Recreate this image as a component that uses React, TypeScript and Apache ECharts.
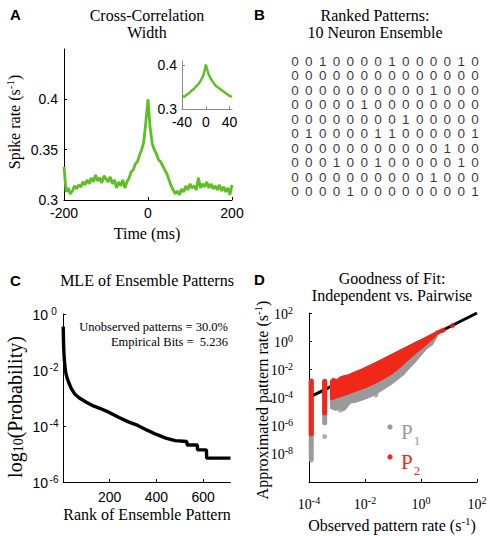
import { useEffect, useRef } from 'react';
import * as echarts from 'echarts';

// ---------- Panel A: cross-correlation ----------
const xcorrTimes = [
  -200, -195, -190, -185, -180, -175, -170, -165, -160, -155,
  -150, -145, -140, -135, -130, -125, -120, -115, -110, -105,
  -100, -95, -90, -85, -80, -75, -70, -65, -60, -55,
  -50, -45, -40, -35, -30, -25, -20, -15, -10, -5,
  0,
  5, 10, 15, 20, 25, 30, 35, 40, 45, 50,
  55, 60, 65, 70, 75, 80, 85, 90, 95, 100,
  105, 110, 115, 120, 125, 130, 135, 140, 145, 150,
  155, 160, 165, 170, 175, 180, 185, 190, 195, 200,
];
const xcorrRates = [
  0.333, 0.308, 0.312, 0.306, 0.309, 0.314, 0.311, 0.315, 0.313, 0.318,
  0.315, 0.320, 0.316, 0.322, 0.318, 0.325, 0.319, 0.322, 0.317, 0.324,
  0.321, 0.318, 0.323, 0.316, 0.320, 0.312, 0.318, 0.314, 0.320, 0.312,
  0.318, 0.322, 0.328, 0.330, 0.336, 0.338, 0.345, 0.350, 0.358, 0.378,
  0.400,
  0.372, 0.356, 0.350, 0.346, 0.340, 0.338, 0.334, 0.330, 0.326, 0.320,
  0.314, 0.310, 0.306, 0.309, 0.305, 0.311, 0.308, 0.314, 0.310, 0.316,
  0.312, 0.314, 0.310, 0.322, 0.312, 0.316, 0.313, 0.318, 0.312, 0.316,
  0.311, 0.314, 0.310, 0.315, 0.309, 0.313, 0.308, 0.312, 0.305, 0.315,
];
const insetTimes = [-40, -36, -32, -28, -24, -20, -16, -12, -8, -4, -2, 0, 2, 4, 8, 12, 16, 20, 24, 28, 32, 36, 40, 44];
const insetRates = [
  0.330, 0.328, 0.333, 0.336, 0.342, 0.346, 0.352, 0.358, 0.366, 0.378, 0.388, 0.402,
  0.392, 0.382, 0.370, 0.362, 0.354, 0.350, 0.346, 0.342, 0.338, 0.334, 0.330, 0.328,
];
const aTimeTicks = [-200, 0, 200];
const aRateTicks = [0.3, 0.35, 0.4];
const insetTimeTicks = [-40, 0, 40];
const insetRateTicks = [0.3, 0.4];

// ---------- Panel B: ranked patterns ----------
const patterns = [
  '00100001000010',
  '00000000000000',
  '00000000001000',
  '00000100000000',
  '00000000100000',
  '01000011000001',
  '00000000000100',
  '00010010000010',
  '00000000001000',
  '00001000000001',
];

// ---------- Panel C: MLE of ensemble patterns ----------
const rankValues = [1, 2, 3, 5, 8, 12, 18, 25, 35, 50, 70, 100, 130, 160, 200, 240, 280, 320, 360, 400, 440, 480, 530, 531, 575, 576, 614, 615, 717];
const rankProbs = [
  0.355, 0.126, 0.063, 0.028, 0.0141, 0.0079, 0.005, 0.0035, 0.0022, 0.0014,
  0.001, 7.1e-4, 5.2e-4, 4.2e-4, 3.0e-4, 2.0e-4, 1.4e-4, 1.05e-4, 7.1e-5, 5.0e-5,
  3.7e-5, 3.0e-5, 2.8e-5, 2.1e-5, 2.1e-5, 1.4e-5, 1.4e-5, 7.1e-6, 7.1e-6,
];
const cRankTicks = [200, 400, 600];
const cProbTicks = [1e-6, 1e-4, 1e-2, 1];

// ---------- Panel D: goodness of fit (log10 exponents) ----------
const diagLineLog = [[-3.92, -3.92], [2, 2]];
const p1ColumnsLog = [[-3.92, -8.3, -2.9], [-3.44, -5.8, -2.9]];
const p2ColumnsLog = [[-3.92, -6.6, -2.82], [-3.44, -5.1, -2.85]];
const p1BandLog = [
  [-3.25, -2.85], [-3.0, -2.7], [-2.76, -2.45], [-2.45, -2.25], [-2.2, -2.08], [-1.93, -1.85],
  [-1.5, -1.42], [-1.1, -1.0], [-0.75, -0.65], [-0.5, -0.38], [-0.2, -0.05], [0.1, 0.22],
  [0.3, 0.42], [0.55, 0.66],
  [0.6, 0.35], [0.43, -0.27], [0.2, -0.6], [-0.16, -1.45], [-0.45, -2.05], [-0.6, -2.4],
  [-0.75, -2.63], [-1.05, -3.1], [-1.34, -3.46], [-1.65, -3.85], [-1.93, -4.1], [-2.3, -4.35],
  [-2.52, -4.45], [-2.65, -4.8], [-2.76, -5.0], [-2.9, -4.85], [-3.05, -4.95], [-3.25, -4.8],
];
const p2BandLog = [
  [-3.25, -2.8], [-3.15, -2.6], [-3.0, -2.68], [-2.9, -2.5], [-2.76, -2.42], [-2.6, -2.36],
  [-2.45, -2.2], [-2.2, -2.02], [-1.93, -1.77], [-1.7, -1.55], [-1.5, -1.35], [-1.34, -1.19],
  [-1.1, -0.95], [-0.9, -0.75], [-0.75, -0.6], [-0.5, -0.35], [-0.3, -0.15], [-0.16, -0.01],
  [0.1, 0.25], [0.3, 0.45], [0.55, 0.7], [0.65, 0.8],
  [0.62, 0.5], [0.45, 0.15], [0.3, -0.1], [0.1, -0.45], [-0.16, -0.86], [-0.45, -1.38],
  [-0.75, -1.92], [-1.05, -2.38], [-1.34, -2.72], [-1.65, -3.05], [-1.93, -3.3], [-2.2, -3.5],
  [-2.5, -3.72], [-2.76, -3.92], [-3.0, -4.05], [-3.15, -4.2], [-3.25, -4.15],
];
const p1PointsLog = [[-2.05, -3.46], [-3.44, -6.77], [-3.92, -8.45], [-1.61, -3.82], [-2.32, -4.17], [-2.88, -4.9]];
const p2PointsLog = [[0.6, 0.62], [0.72, 0.72], [0.8, 0.79], [1.12, 1.1]];
const dObsTicks = [1e-4, 1e-2, 1, 100];
const dApproxTicks = [1e-8, 1e-6, 1e-4, 1e-2, 1, 100];

const SERIF = '"Liberation Serif", "Times New Roman", serif';
const SANS = '"Liberation Sans", Arial, sans-serif';
const GREEN = '#5cbf22';
const GRAY = '#9a9a9a';
const RED = '#f0281a';

const toPow = (rows: number[][]) => rows.map((r) => r.map((v) => Math.pow(10, v)));

function axisStyle(ticks: number[], label: any, color = '#000') {
  return {
    axisLine: { show: true, onZero: false, lineStyle: { color, width: 1 } },
    axisTick: { show: true, inside: true, length: 3, customValues: ticks, lineStyle: { color } },
    axisLabel: { show: true, customValues: ticks, color: '#000', ...label },
    splitLine: { show: false },
  };
}

const logFmt = (v: number) => `{b|10}{s|${Math.round(Math.log10(v))}}`;

function supRich(size: number, font: string, supWidth?: number) {
  return {
    b: { fontSize: size, fontFamily: font, color: '#000', lineHeight: size + 2, verticalAlign: 'bottom' },
    s: { fontSize: Math.round(size * 0.7), fontFamily: font, color: '#000', lineHeight: 4, verticalAlign: 'top', ...(supWidth ? { width: supWidth, align: 'left' } : {}) },
  };
}

function txt(x: number, y: number, text: string, opts: any = {}) {
  return {
    type: 'text',
    x,
    y,
    rotation: opts.rotation || 0,
    style: {
      text,
      fill: opts.fill || '#000',
      font: opts.font || `16px ${SERIF}`,
      align: opts.align || 'center',
      verticalAlign: 'middle',
      rich: opts.rich,
    },
  };
}

const serifRich = (size: number, color = '#000') => ({
  t: { fontSize: size, fontFamily: SERIF, fill: color, lineHeight: size + 2, verticalAlign: 'bottom' },
  s: { fontSize: Math.round(size * 0.68), fontFamily: SERIF, fill: color, lineHeight: 5, verticalAlign: 'top' },
  u: { fontSize: Math.round(size * 0.68), fontFamily: SERIF, fill: color, lineHeight: 5, verticalAlign: 'bottom' },
});

const numLabel = { fontSize: 14, fontFamily: SANS, lineHeight: 12 };

export default function App() {
  const ref = useRef<HTMLDivElement>(null);
  useEffect(() => {
    if (!ref.current) return;
    const chart = echarts.init(ref.current, undefined, { renderer: 'svg' });

    const p1Band = toPow(p1BandLog);
    const p2Band = toPow(p2BandLog);
    const p1Cols = toPow(p1ColumnsLog);
    const p2Cols = toPow(p2ColumnsLog);

    const polygonItem = (pts: number[][], fill: string) => (params: any, api: any) => {
      if (params.dataIndex !== 0) return null;
      return { type: 'polygon', shape: { points: pts.map((p) => api.coord(p)) }, style: { fill } };
    };
    const columnItem = (fill: string) => (_params: any, api: any) => {
      const x = api.value(0);
      const top = api.coord([x, api.value(2)]);
      const bot = api.coord([x, api.value(1)]);
      return {
        type: 'rect',
        shape: { x: top[0] - 2.5, y: top[1] - 2.5, width: 5, height: bot[1] - top[1] + 5, r: 2.5 },
        style: { fill },
      };
    };

    const gridCells: any[] = [];
    patterns.forEach((row, r) => row.split('').forEach((d, c) => gridCells.push([c, r, d])));

    const option: any = {
      animation: false,
      backgroundColor: '#fff',
      grid: [
        { left: 64, top: 49, width: 168, height: 151 },
        { left: 182, top: 61, width: 50, height: 48 },
        { left: 288, top: 54, width: 194, height: 145 },
        { left: 63, top: 314, width: 167.5, height: 168 },
        { left: 309, top: 313, width: 168, height: 169 },
      ],
      xAxis: [
        { gridIndex: 0, type: 'value', min: -200, max: 200, ...axisStyle(aTimeTicks, { ...numLabel, margin: 7 }) },
        { gridIndex: 1, type: 'value', min: -40, max: 44, ...axisStyle(insetTimeTicks, { ...numLabel, margin: 7 }, '#888') },
        { gridIndex: 2, type: 'category', data: patterns[0].split('').map((_, i) => i), show: false },
        { gridIndex: 3, type: 'value', min: 0, max: 717, ...axisStyle(cRankTicks, { ...numLabel, margin: 9 }) },
        {
          gridIndex: 4, type: 'log', logBase: 10, min: 1e-4, max: 100,
          ...axisStyle(dObsTicks, { formatter: logFmt, margin: 13, rich: supRich(14, SERIF) }),
        },
      ],
      yAxis: [
        { gridIndex: 0, type: 'value', min: 0.3, max: 0.45, ...axisStyle(aRateTicks, { ...numLabel, margin: 6, formatter: (v: number) => String(v) }) },
        { gridIndex: 1, type: 'value', min: 0.3, max: 0.41, ...axisStyle(insetRateTicks, { ...numLabel, margin: 5, formatter: (v: number) => String(v) }, '#888') },
        { gridIndex: 2, type: 'category', data: patterns.map((_, i) => i), inverse: true, show: false },
        {
          gridIndex: 3, type: 'log', logBase: 10, min: 1e-6, max: 1,
          ...axisStyle(cProbTicks, { formatter: logFmt, margin: 3, rich: supRich(14, SANS, 12) }),
        },
        {
          gridIndex: 4, type: 'log', logBase: 10, min: 1e-10, max: 100,
          ...axisStyle(dApproxTicks, { formatter: logFmt, margin: 16, rich: supRich(14, SERIF) }),
        },
      ],
      series: [
        {
          name: 'Cross-correlation', type: 'line', xAxisIndex: 0, yAxisIndex: 0,
          data: xcorrTimes.map((t, i) => [t, xcorrRates[i]]),
          showSymbol: false, lineStyle: { color: GREEN, width: 2.8 }, itemStyle: { color: GREEN },
        },
        {
          name: 'Inset', type: 'line', xAxisIndex: 1, yAxisIndex: 1,
          data: insetTimes.map((t, i) => [t, insetRates[i]]),
          showSymbol: false, lineStyle: { color: GREEN, width: 2.4 }, itemStyle: { color: GREEN },
        },
        {
          name: 'Patterns', type: 'scatter', xAxisIndex: 2, yAxisIndex: 2, data: gridCells,
          symbolSize: 1, itemStyle: { color: 'rgba(0,0,0,0)' },
          label: { show: true, position: 'inside', formatter: (p: any) => p.value[2], fontSize: 13.5, fontFamily: SANS, color: '#000' },
        },
        {
          name: 'MLE', type: 'line', xAxisIndex: 3, yAxisIndex: 3,
          data: rankValues.map((r, i) => [r, rankProbs[i]]),
          showSymbol: false, lineStyle: { color: '#000', width: 3.4 }, itemStyle: { color: '#000' },
        },
        {
          name: 'P1', type: 'custom', xAxisIndex: 4, yAxisIndex: 4, data: p1Band, z: 1,
          encode: { x: 0, y: 1 }, renderItem: polygonItem(p1Band, GRAY), silent: true,
        },
        {
          name: 'P1 columns', type: 'custom', xAxisIndex: 4, yAxisIndex: 4, data: p1Cols, z: 1,
          encode: { x: 0, y: [1, 2] }, renderItem: columnItem(GRAY), silent: true,
        },
        {
          name: 'P1 points', type: 'scatter', xAxisIndex: 4, yAxisIndex: 4, data: toPow(p1PointsLog), z: 1,
          symbolSize: 5, itemStyle: { color: GRAY },
        },
        {
          name: 'Identity', type: 'line', xAxisIndex: 4, yAxisIndex: 4, data: toPow(diagLineLog), z: 2,
          showSymbol: false, lineStyle: { color: '#000', width: 3 }, itemStyle: { color: '#000' },
        },
        {
          name: 'P2', type: 'custom', xAxisIndex: 4, yAxisIndex: 4, data: p2Band, z: 3,
          encode: { x: 0, y: 1 }, renderItem: polygonItem(p2Band, RED), silent: true,
        },
        {
          name: 'P2 columns', type: 'custom', xAxisIndex: 4, yAxisIndex: 4, data: p2Cols, z: 3,
          encode: { x: 0, y: [1, 2] }, renderItem: columnItem(RED), silent: true,
        },
        {
          name: 'P2 points', type: 'scatter', xAxisIndex: 4, yAxisIndex: 4, data: toPow(p2PointsLog), z: 3,
          symbolSize: 5, itemStyle: { color: RED },
        },
      ],
      graphic: [
        txt(10, 14, 'A', { font: `bold 15px ${SANS}`, align: 'left' }),
        txt(254, 14, 'B', { font: `bold 15px ${SANS}`, align: 'left' }),
        txt(10, 280, 'C', { font: `bold 15px ${SANS}`, align: 'left' }),
        txt(254, 279, 'D', { font: `bold 15px ${SANS}`, align: 'left' }),
        txt(147, 15, 'Cross-Correlation'),
        txt(147, 32, 'Width'),
        txt(375, 15, 'Ranked Patterns:'),
        txt(375, 32, '10 Neuron Ensemble'),
        txt(147, 280, 'MLE of Ensemble Patterns'),
        txt(392, 278, 'Goodness of Fit:'),
        txt(392, 295, 'Independent vs. Pairwise'),
        txt(147, 233, 'Time (ms)'),
        txt(147, 514, 'Rank of Ensemble Pattern'),
        txt(13, 122, '{t|Spike rate (s}{s|-1}{t|)}', { rotation: Math.PI / 2, rich: serifRich(16) }),
        txt(14, 407, '{t|log}{u|10}{t|(Probability)}', { rotation: Math.PI / 2, rich: serifRich(20) }),
        txt(261, 400, '{t|Approximated pattern rate (s}{s|-1}{t|)}', { rotation: Math.PI / 2, rich: serifRich(16) }),
        txt(392, 524, '{t|Observed pattern rate (s}{s|-1}{t|)}', { rich: serifRich(16) }),
        txt(228, 327, 'Unobserved patterns = 30.0%', { font: `12.5px ${SERIF}`, align: 'right' }),
        txt(228, 342, 'Empirical Bits =  5.236', { font: `12.5px ${SERIF}`, align: 'right' }),
        { type: 'circle', shape: { cx: 390, cy: 427, r: 2.6 }, style: { fill: GRAY } },
        { type: 'circle', shape: { cx: 390, cy: 457, r: 2.6 }, style: { fill: RED } },
        {
          type: 'text', x: 401, y: 432,
          style: {
            text: '{p|P}{n|1}', align: 'left', verticalAlign: 'middle',
            rich: {
              p: { fontSize: 21, fontFamily: SERIF, fill: GRAY, lineHeight: 22, verticalAlign: 'top' },
              n: { fontSize: 13, fontFamily: SERIF, fill: GRAY, lineHeight: 13, padding: [13, 0, 0, 1], verticalAlign: 'top' },
            },
          },
        },
        {
          type: 'text', x: 401, y: 462,
          style: {
            text: '{p|P}{n|2}', align: 'left', verticalAlign: 'middle',
            rich: {
              p: { fontSize: 21, fontFamily: SERIF, fill: RED, lineHeight: 22, verticalAlign: 'top' },
              n: { fontSize: 13, fontFamily: SERIF, fill: RED, lineHeight: 13, padding: [13, 0, 0, 1], verticalAlign: 'top' },
            },
          },
        },
      ],
    };
    chart.setOption(option);
    return () => chart.dispose();
  }, []);
  return <div ref={ref} style={{ position: 'absolute', left: 0, top: 0, width: 490, height: 536 }} />;
}
